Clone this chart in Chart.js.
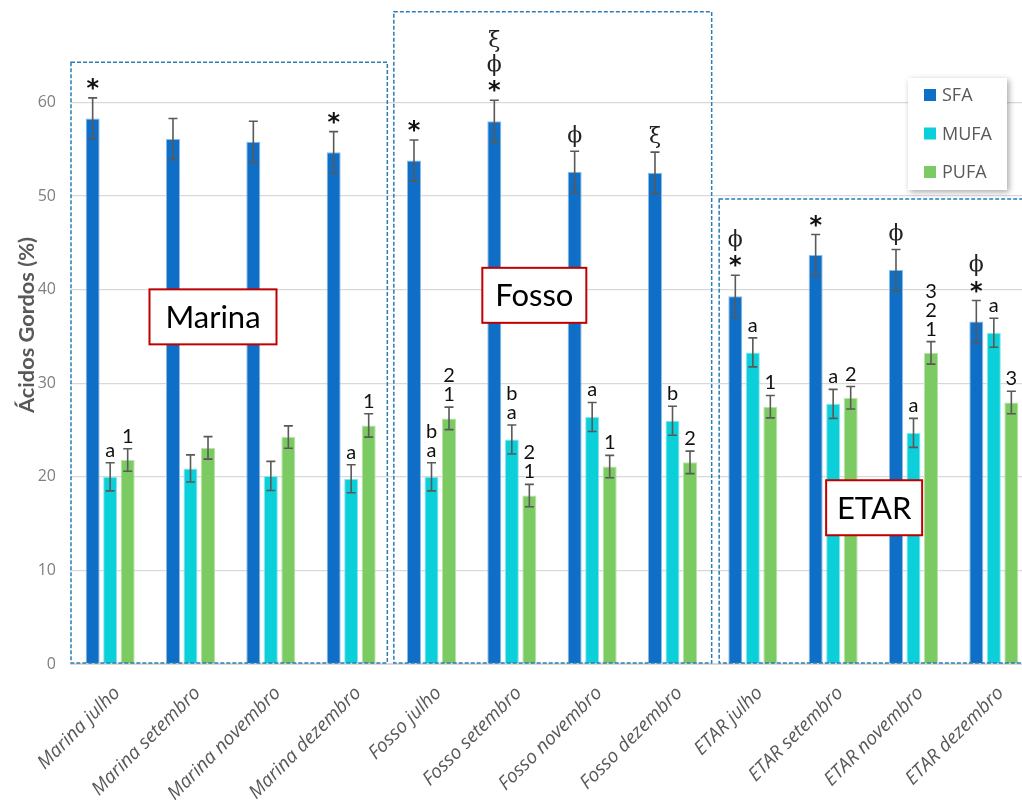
<!DOCTYPE html>
<html>
<head>
<meta charset="utf-8">
<script src="https://cdn.jsdelivr.net/npm/chart.js@4"></script>
<style>
  html, body { margin: 0; padding: 0; background: #fff; overflow: hidden; }
  #wrap { width: 1040px; height: 811px; }
</style>
</head>
<body>
<div id="wrap"><canvas id="c" width="1040" height="811"></canvas></div>
<script>
// Sampling sites × months
const categories = [
  'Marina julho', 'Marina setembro', 'Marina novembro', 'Marina dezembro',
  'Fosso julho', 'Fosso setembro', 'Fosso novembro', 'Fosso dezembro',
  'ETAR julho', 'ETAR setembro', 'ETAR novembro', 'ETAR dezembro'
];

// Fatty acid classes (% of total), with standard deviations
const sfa     = [58.3, 56.1, 55.8, 54.7, 53.8, 58.0, 52.6, 52.5, 39.3, 43.7, 42.1, 36.6];
const sfaErr  = [2.2, 2.2, 2.2, 2.2, 2.2, 2.25, 2.2, 2.2, 2.25, 2.2, 2.2, 2.25];
const mufa    = [20.0, 20.9, 20.1, 19.8, 20.0, 24.0, 26.4, 26.0, 33.3, 27.8, 24.7, 35.4];
const mufaErr = [1.5, 1.45, 1.55, 1.5, 1.5, 1.55, 1.55, 1.55, 1.55, 1.55, 1.55, 1.55];
const pufa    = [21.8, 23.1, 24.25, 25.5, 26.25, 18.0, 21.1, 21.55, 27.5, 28.45, 33.25, 27.95];
const pufaErr = [1.2, 1.2, 1.2, 1.25, 1.2, 1.2, 1.2, 1.2, 1.2, 1.2, 1.2, 1.2];

// Significance marks above each bar, listed from the bottom up
const sfaMarks  = [['*'], [], [], ['*'], ['*'], ['*', 'ϕ', 'ξ'], ['ϕ'], ['ξ'], ['*', 'ϕ'], ['*'], ['ϕ'], ['*', 'ϕ']];
const mufaMarks = [['a'], [], [], ['a'], ['a', 'b'], ['a', 'b'], ['a'], ['b'], ['a'], ['a'], ['a'], ['a']];
const pufaMarks = [['1'], [], [], ['1'], ['1', '2'], ['1', '2'], ['1'], ['2'], ['1'], ['2'], ['1', '2', '3'], ['3']];

// Y axis ticks
const yTicks = [0, 10, 20, 30, 40, 50, 60];

// Site groups (first/last category index, label)
const siteNames = ['Marina', 'Fosso', 'ETAR'];
const siteFirst = [0, 4, 8];
const siteLast  = [3, 7, 11];

const FONT = 'Lato, "Open Sans", "DejaVu Sans", sans-serif';
const UI_FONT = '"Open Sans", "DejaVu Sans", sans-serif';

// Drawing geometry for the site frames and name tags
const frameStyle = [
  { top: 64.3, padL: 1, padR: -4 },
  { top: 69.7, padL: 2.5, padR: -1 },
  { top: 49.7, padL: 6.5, padR: 0 }
];
const tagStyle = [
  { cx: 1.28, cy: 37.1, w: 127, h: 55 },
  { cx: 5.28, cy: 39.4, w: 104, h: 55 },
  { cx: 9.51, cy: 16.7, w: 96, h: 55 }
];

const errs  = [sfaErr, mufaErr, pufaErr];
const marks = [sfaMarks, mufaMarks, pufaMarks];

const overlay = {
  id: 'overlay',
  afterDatasetsDraw(chart) {
    const ctx = chart.ctx;
    const ys = chart.scales.y;

    // error bars and significance marks
    chart.data.datasets.forEach((ds, di) => {
      const meta = chart.getDatasetMeta(di);
      meta.data.forEach((bar, i) => {
        const v = ds.data[i], e = errs[di][i];
        const yTop = ys.getPixelForValue(v + e);
        const yBot = ys.getPixelForValue(v - e);
        const x = bar.x;
        ctx.save();
        ctx.strokeStyle = '#595959';
        ctx.lineWidth = 1.6;
        ctx.beginPath();
        ctx.moveTo(x, yTop); ctx.lineTo(x, yBot);
        ctx.moveTo(x - 4.5, yTop); ctx.lineTo(x + 4.5, yTop);
        ctx.moveTo(x - 4.5, yBot); ctx.lineTo(x + 4.5, yBot);
        ctx.stroke();

        let cursor = yTop - 3;
        ctx.textAlign = 'center';
        ctx.textBaseline = 'middle';
        marks[di][i].forEach(m => {
          let h;
          if (m === '*') {
            h = 20;
            ctx.fillStyle = '#111';
            ctx.font = 'bold 24px "DejaVu Sans", sans-serif';
            ctx.fillText(m, x, cursor - h / 2 + 5);
          } else if (m === 'ϕ' || m === 'ξ') {
            h = 24;
            ctx.fillStyle = '#222';
            ctx.font = '22px "DejaVu Serif", serif';
            ctx.fillText(m, x, cursor - h / 2);
          } else {
            h = 19;
            ctx.fillStyle = '#111';
            ctx.font = '20px ' + FONT;
            ctx.fillText(m, x, cursor - h / 2);
          }
          cursor -= h;
        });
        ctx.restore();
      });
    });
  },
  afterDraw(chart) {
    const ctx = chart.ctx;
    const xs = chart.scales.x, ys = chart.scales.y;
    const y0 = ys.getPixelForValue(0);

    // dashed frames around each site
    siteNames.forEach((name, k) => {
      const f = frameStyle[k];
      const l = xs.getPixelForValue(siteFirst[k] - 0.5) + f.padL;
      const r = xs.getPixelForValue(siteLast[k] + 0.5) + f.padR;
      const t = ys.getPixelForValue(f.top);
      ctx.save();
      ctx.strokeStyle = '#2B7DB3';
      ctx.lineWidth = 1.5;
      ctx.setLineDash([4, 2]);
      ctx.strokeRect(l, t, r - l, y0 - 1 - t);
      ctx.restore();
    });

    // site name tags
    siteNames.forEach((name, k) => {
      const g = tagStyle[k];
      const cx = xs.getPixelForValue(g.cx);
      const cy = ys.getPixelForValue(g.cy);
      ctx.save();
      ctx.fillStyle = '#fff';
      ctx.fillRect(cx - g.w / 2, cy - g.h / 2, g.w, g.h);
      ctx.strokeStyle = '#C00000';
      ctx.lineWidth = 2;
      ctx.strokeRect(cx - g.w / 2, cy - g.h / 2, g.w, g.h);
      ctx.fillStyle = '#000';
      ctx.font = '31px ' + FONT;
      ctx.textAlign = 'center';
      ctx.textBaseline = 'middle';
      ctx.fillText(name, cx, cy + 1);
      ctx.restore();
    });

    // legend
    const lx = 908, ly = 78, lw = 99, lh = 112;
    ctx.save();
    ctx.shadowColor = 'rgba(0,0,0,0.35)';
    ctx.shadowBlur = 6;
    ctx.shadowOffsetX = 2;
    ctx.shadowOffsetY = 2;
    ctx.fillStyle = '#fff';
    ctx.fillRect(lx, ly, lw, lh);
    ctx.restore();
    ctx.save();
    chart.data.datasets.forEach((ds, di) => {
      const cy = 95 + di * 38.5;
      ctx.fillStyle = ds.backgroundColor;
      ctx.fillRect(924, cy - 6, 12, 12);
      ctx.fillStyle = '#595959';
      ctx.font = '18px ' + UI_FONT;
      ctx.textAlign = 'left';
      ctx.textBaseline = 'middle';
      ctx.fillText(ds.label, 942, cy + 1);
    });
    ctx.restore();

    // y axis title
    const title = 'Ácidos Gordos (%)';
    ctx.save();
    ctx.font = 'bold 21px ' + FONT;
    const tw = ctx.measureText(title).width;
    ctx.translate(27, 325);
    ctx.rotate(-Math.PI / 2);
    ctx.scale(176 / tw, 1);
    ctx.fillStyle = '#595959';
    ctx.textAlign = 'center';
    ctx.textBaseline = 'middle';
    ctx.fillText(title, 0, 0);
    ctx.restore();
  }
};

new Chart(document.getElementById('c'), {
  type: 'bar',
  data: {
    labels: categories,
    datasets: [
      { label: 'SFA',  data: sfa,  backgroundColor: '#0F6FC6', borderColor: '#8DBBE6', borderWidth: 1 },
      { label: 'MUFA', data: mufa, backgroundColor: '#0BD0D9', borderColor: '#8FE6EA', borderWidth: 1 },
      { label: 'PUFA', data: pufa, backgroundColor: '#7CCA62', borderColor: '#B9E2AB', borderWidth: 1 }
    ]
  },
  options: {
    responsive: false,
    animation: false,
    devicePixelRatio: 1,
    categoryPercentage: 0.654,
    barPercentage: 0.8,
    layout: { padding: { top: 9, right: 6, left: 0, bottom: 0 } },
    plugins: {
      legend: { display: false },
      tooltip: { enabled: false }
    },
    scales: {
      x: {
        grid: { display: false },
        border: { display: true, color: '#d9d9d9', width: 1 },
        ticks: {
          minRotation: 45, maxRotation: 45,
          color: '#595959',
          font: { family: UI_FONT, size: 19, style: 'italic' },
          padding: 10,
          labelOffset: 7
        },
        afterFit(scale) {
          scale.height = 147;
          scale.paddingLeft = 0;
          scale.paddingRight = 0;
        }
      },
      y: {
        min: 0, max: 70,
        grid: { color: '#d9d9d9', lineWidth: 1.3, drawTicks: false },
        border: { display: false },
        ticks: {
          stepSize: 10,
          color: '#7f7f7f',
          font: { family: UI_FONT, size: 16 },
          padding: 14
        },
        afterBuildTicks(scale) {
          scale.ticks = yTicks.map(v => ({ value: v }));
        },
        afterFit(scale) {
          scale.width = 70;
          scale.paddingTop = 0;
          scale.paddingBottom = 0;
        }
      }
    }
  },
  plugins: [overlay]
});
</script>
</body>
</html>
